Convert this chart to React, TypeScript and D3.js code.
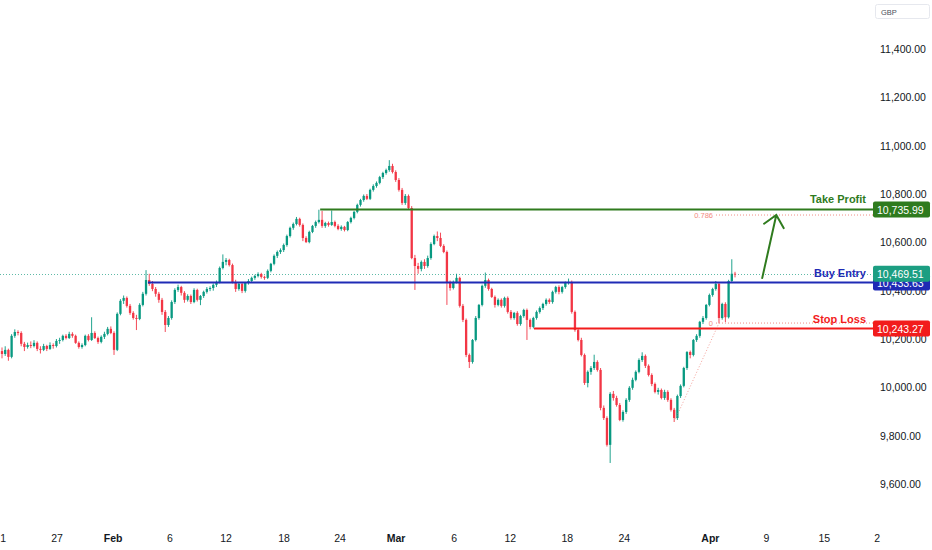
import React, { useRef, useEffect } from 'react';
import * as d3 from 'd3';

const WIDTH = 932;
const HEIGHT = 550;
const FONT = '"Liberation Sans", Arial, sans-serif';

// candles (open / high / low / close)
const opens = [
  10150, 10138, 10155, 10126, 10213, 10229, 10225, 10180, 10167, 10175,
  10171, 10184, 10159, 10155, 10171, 10159, 10175, 10171, 10192, 10196,
  10213, 10204, 10221, 10213, 10184, 10167, 10175, 10213, 10196, 10225,
  10204, 10188, 10209, 10221, 10242, 10225, 10155, 10304, 10358, 10370,
  10337, 10308, 10287, 10283, 10341, 10387, 10444, 10428, 10407, 10387,
  10362, 10312, 10258, 10287, 10353, 10403, 10415, 10391, 10362, 10378,
  10353, 10403, 10362, 10378, 10395, 10407, 10411, 10424, 10436, 10494,
  10519, 10527, 10506, 10436, 10407, 10428, 10399, 10432, 10440, 10453,
  10461, 10469, 10457, 10453, 10482, 10511, 10544, 10560, 10568, 10589,
  10626, 10660, 10676, 10697, 10672, 10618, 10601, 10643, 10668, 10684,
  10693, 10668, 10680, 10672, 10684, 10668, 10655, 10664, 10651, 10684,
  10701, 10726, 10755, 10775, 10792, 10780, 10817, 10833, 10846, 10870,
  10887, 10899, 10916, 10891, 10858, 10817, 10763, 10792, 10742, 10535,
  10502, 10490, 10519, 10502, 10535, 10593, 10626, 10618, 10585, 10560,
  10436, 10411, 10436, 10453, 10337, 10279, 10134, 10105, 10196, 10287,
  10341, 10420, 10444, 10407, 10374, 10341, 10362, 10337, 10370, 10312,
  10287, 10308, 10262, 10295, 10320, 10279, 10250, 10287, 10312, 10328,
  10345, 10362, 10353, 10395, 10415, 10395, 10415, 10432, 10436, 10312,
  10237, 10196, 10134, 10018, 10064, 10080, 10105, 10072, 9915, 9873,
  9762, 9973, 9956, 9927, 9865, 9898, 9948, 9998, 10031, 10064,
  10113, 10130, 10089, 10051, 10014, 9981, 9989, 9956, 9981, 9948,
  9907, 9873, 9964, 10006, 10080, 10146, 10134, 10196, 10213, 10271,
  10287, 10341, 10382, 10407, 10428, 10287, 10345, 10290, 10440, 10470,
];
const highs = [
  10165, 10170, 10160, 10220, 10240, 10236, 10232, 10188, 10185, 10190,
  10195, 10190, 10170, 10180, 10176, 10186, 10182, 10200, 10205, 10218,
  10220, 10230, 10228, 10218, 10190, 10182, 10218, 10220, 10290, 10232,
  10210, 10215, 10230, 10250, 10252, 10232, 10310, 10365, 10380, 10376,
  10345, 10315, 10300, 10348, 10395, 10485, 10470, 10440, 10415, 10395,
  10370, 10320, 10295, 10360, 10410, 10425, 10420, 10398, 10385, 10384,
  10410, 10408, 10382, 10400, 10415, 10418, 10430, 10442, 10500, 10550,
  10535, 10532, 10512, 10445, 10432, 10434, 10436, 10448, 10458, 10466,
  10476, 10474, 10462, 10488, 10515, 10550, 10566, 10575, 10595, 10632,
  10665, 10682, 10705, 10702, 10678, 10625, 10648, 10672, 10690, 10735,
  10730, 10685, 10686, 10732, 10690, 10675, 10670, 10668, 10688, 10706,
  10730, 10760, 10780, 10798, 10800, 10822, 10840, 10852, 10875, 10892,
  10905, 10940, 10925, 10898, 10866, 10825, 10800, 10798, 10750, 10548,
  10515, 10525, 10530, 10545, 10600, 10632, 10645, 10640, 10592, 10566,
  10442, 10442, 10470, 10458, 10345, 10285, 10140, 10200, 10295, 10345,
  10425, 10475, 10450, 10412, 10380, 10368, 10368, 10375, 10376, 10320,
  10312, 10315, 10300, 10325, 10326, 10285, 10292, 10318, 10335, 10350,
  10368, 10368, 10400, 10420, 10422, 10420, 10438, 10450, 10442, 10318,
  10245, 10205, 10140, 10070, 10088, 10135, 10112, 10080, 9925, 9880,
  9980, 9985, 9965, 9935, 9905, 9955, 10005, 10040, 10070, 10120,
  10145, 10136, 10095, 10058, 10020, 9998, 9995, 9990, 9988, 9955,
  9915, 9970, 10012, 10085, 10150, 10152, 10200, 10220, 10275, 10295,
  10345, 10388, 10412, 10440, 10434, 10350, 10352, 10445, 10530, 10478,
];
const lows = [
  10120, 10130, 10110, 10120, 10205, 10215, 10170, 10150, 10160, 10162,
  10165, 10150, 10140, 10150, 10150, 10155, 10160, 10165, 10180, 10190,
  10198, 10200, 10205, 10180, 10160, 10160, 10170, 10190, 10192, 10200,
  10180, 10182, 10200, 10215, 10220, 10134, 10150, 10298, 10345, 10330,
  10300, 10280, 10237, 10278, 10335, 10380, 10420, 10398, 10375, 10350,
  10300, 10229, 10250, 10280, 10345, 10395, 10380, 10350, 10355, 10345,
  10348, 10355, 10340, 10370, 10388, 10398, 10400, 10415, 10430, 10488,
  10505, 10500, 10430, 10395, 10400, 10390, 10392, 10425, 10432, 10445,
  10455, 10450, 10445, 10448, 10476, 10505, 10535, 10552, 10560, 10582,
  10620, 10652, 10670, 10665, 10605, 10597, 10596, 10638, 10660, 10678,
  10660, 10660, 10665, 10668, 10662, 10650, 10648, 10645, 10646, 10678,
  10695, 10720, 10748, 10768, 10775, 10775, 10810, 10826, 10840, 10862,
  10880, 10892, 10885, 10850, 10810, 10755, 10755, 10735, 10530, 10403,
  10470, 10480, 10490, 10495, 10528, 10588, 10605, 10580, 10555, 10341,
  10400, 10405, 10430, 10330, 10270, 10125, 10080, 10098, 10190, 10280,
  10335, 10412, 10400, 10370, 10330, 10335, 10330, 10330, 10305, 10280,
  10280, 10255, 10255, 10288, 10196, 10240, 10244, 10280, 10305, 10320,
  10338, 10345, 10346, 10388, 10385, 10388, 10408, 10425, 10305, 10230,
  10190, 10128, 10010, 10000, 10052, 10072, 10065, 9905, 9865, 9755,
  9687, 9945, 9920, 9860, 9858, 9890, 9940, 9990, 10025, 10058,
  10105, 10080, 10045, 10005, 9975, 9970, 9950, 9948, 9940, 9900,
  9857, 9865, 9956, 10000, 10072, 10120, 10128, 10188, 10205, 10262,
  10280, 10335, 10375, 10400, 10266, 10280, 10270, 10285, 10435, 10455,
];
const closes = [
  10138, 10155, 10126, 10213, 10229, 10225, 10180, 10167, 10175, 10171,
  10184, 10159, 10155, 10171, 10159, 10175, 10171, 10192, 10196, 10213,
  10204, 10221, 10213, 10184, 10167, 10175, 10213, 10196, 10225, 10204,
  10188, 10209, 10221, 10242, 10225, 10155, 10304, 10358, 10370, 10337,
  10308, 10287, 10283, 10341, 10387, 10444, 10428, 10407, 10387, 10362,
  10312, 10258, 10287, 10353, 10403, 10415, 10391, 10362, 10378, 10353,
  10403, 10362, 10378, 10395, 10407, 10411, 10424, 10436, 10494, 10519,
  10527, 10506, 10436, 10407, 10428, 10399, 10432, 10440, 10453, 10461,
  10469, 10457, 10453, 10482, 10511, 10544, 10560, 10568, 10589, 10626,
  10660, 10676, 10697, 10672, 10618, 10601, 10643, 10668, 10684, 10693,
  10668, 10680, 10672, 10684, 10668, 10655, 10664, 10651, 10684, 10701,
  10726, 10755, 10775, 10792, 10780, 10817, 10833, 10846, 10870, 10887,
  10899, 10916, 10891, 10858, 10817, 10763, 10792, 10742, 10535, 10502,
  10490, 10519, 10502, 10535, 10593, 10626, 10618, 10585, 10560, 10436,
  10411, 10436, 10453, 10337, 10279, 10134, 10105, 10196, 10287, 10341,
  10420, 10444, 10407, 10374, 10341, 10362, 10337, 10370, 10312, 10287,
  10308, 10262, 10295, 10320, 10279, 10250, 10287, 10312, 10328, 10345,
  10362, 10353, 10395, 10415, 10395, 10415, 10432, 10436, 10312, 10237,
  10196, 10134, 10018, 10064, 10080, 10105, 10072, 9915, 9873, 9762,
  9973, 9956, 9927, 9865, 9898, 9948, 9998, 10031, 10064, 10113,
  10130, 10089, 10051, 10014, 9981, 9989, 9956, 9981, 9948, 9907,
  9873, 9964, 10006, 10080, 10146, 10134, 10196, 10213, 10271, 10287,
  10341, 10382, 10407, 10428, 10287, 10345, 10290, 10440, 10470, 10469.51,
];

// price axis
const priceTicks = [9600, 9800, 10000, 10200, 10400, 10600, 10800, 11000, 11200, 11400];
// time axis: label + position in bar units
const timeLabels = ['1', '27', 'Feb', '6', '12', '18', '24', 'Mar', '6', '12', '18', '24', 'Apr', '9', '15', '2'];
const timeAt = [0.4, 17.2, 34.7, 52.5, 70, 88.1, 105.6, 123.1, 141.3, 158.8, 176.6, 194.4, 221.3, 238.8, 256.9, 273.4];
const monthLabels = ['Feb', 'Mar', 'Apr'];

// trade levels
const levelNames = ['Take Profit', 'Buy Entry', 'Stop Loss'];
const levelPrices = [10735.99, 10433.63, 10243.27];
const levelStartBar = [99.4, 45.6, 166.2];
const levelColors = ['#2f7b1e', '#1f2bb5', '#f21c1c'];
const lastPrice = 10469.51;

// fib tool
const fibNames = ['0.786', '0'];
const fibPrices = [10713, 10266];
const fibTrend = [[210, 9857], [224, 10266]];

// projected move arrow [bar, price]
const arrowFrom = [237.5, 10452];
const arrowTo = [241.9, 10713];

const fmt = d3.format(',.2f');

const App: React.FC = () => {
  const svgRef = useRef<SVGSVGElement | null>(null);

  useEffect(() => {
    const svg = d3.select(svgRef.current);
    svg.selectAll('*').remove();

    const plotRight = 873;
    const x = d3.scaleLinear().domain([0, closes.length - 1]).range([2, 735]);
    const y = d3.scaleLinear().domain([9600, 11400]).range([484, 49]);
    const step = x(1) - x(0);
    const bodyW = Math.max(1, step * 0.72);

    svg.append('rect').attr('width', WIDTH).attr('height', HEIGHT).attr('fill', '#ffffff');

    svg.append('defs').append('clipPath').attr('id', 'plot-clip')
      .append('rect').attr('x', 0).attr('y', 0).attr('width', plotRight).attr('height', 525);

    const plot = svg.append('g').attr('clip-path', 'url(#plot-clip)');

    // last price dotted line
    plot.append('line')
      .attr('x1', 0).attr('x2', plotRight)
      .attr('y1', Math.round(y(lastPrice)) + 0.5).attr('y2', Math.round(y(lastPrice)) + 0.5)
      .attr('stroke', '#1c9e82').attr('stroke-width', 1).attr('stroke-dasharray', '1 2').attr('opacity', 0.7);

    // candles
    const idx = d3.range(closes.length);
    const up = (i: number) => closes[i] >= opens[i];
    const UP = '#089981';
    const DOWN = '#f23645';

    const candles = plot.append('g').selectAll('g.candle').data(idx).enter()
      .append('g').attr('class', 'candle');

    candles.append('line')
      .attr('x1', (i: number) => x(i)).attr('x2', (i: number) => x(i))
      .attr('y1', (i: number) => y(highs[i])).attr('y2', (i: number) => y(lows[i]))
      .attr('stroke', (i: number) => (up(i) ? UP : DOWN)).attr('stroke-width', 0.9);

    candles.append('rect')
      .attr('x', (i: number) => x(i) - bodyW / 2)
      .attr('y', (i: number) => y(Math.max(opens[i], closes[i])))
      .attr('width', bodyW)
      .attr('height', (i: number) => Math.max(0.8, Math.abs(y(opens[i]) - y(closes[i]))))
      .attr('fill', (i: number) => (up(i) ? UP : DOWN));

    // fib retracement bits
    const FIB = '#f28b82';
    plot.append('line')
      .attr('x1', x(fibTrend[0][0])).attr('y1', y(fibTrend[0][1]))
      .attr('x2', x(fibTrend[1][0])).attr('y2', y(fibTrend[1][1]))
      .attr('stroke', FIB).attr('stroke-width', 1).attr('stroke-dasharray', '1 2').attr('opacity', 0.8);
    fibNames.forEach((name, k) => {
      const fy = y(fibPrices[k]);
      plot.append('line')
        .attr('x1', x(fibTrend[1][0]) - 3).attr('x2', plotRight)
        .attr('y1', fy).attr('y2', fy)
        .attr('stroke', FIB).attr('stroke-width', 1).attr('stroke-dasharray', '1 2');
      plot.append('text')
        .attr('x', x(fibTrend[1][0]) - 6).attr('y', fy)
        .attr('text-anchor', 'end').attr('dominant-baseline', 'central')
        .attr('font-family', FONT).attr('font-size', 7.5).attr('fill', FIB)
        .text(name);
    });

    // trade levels
    levelNames.forEach((name, k) => {
      const ly = y(levelPrices[k]);
      plot.append('line')
        .attr('x1', x(levelStartBar[k])).attr('x2', plotRight)
        .attr('y1', ly).attr('y2', ly)
        .attr('stroke', levelColors[k]).attr('stroke-width', 2);
      plot.append('text')
        .attr('x', 866).attr('y', ly - 6)
        .attr('text-anchor', 'end')
        .attr('font-family', FONT).attr('font-size', 11).attr('font-weight', 'bold')
        .attr('fill', levelColors[k])
        .text(name);
    });

    // arrow
    const ARROW = '#2f7b1e';
    const ax1 = x(arrowFrom[0]);
    const ay1 = y(arrowFrom[1]);
    const ax2 = x(arrowTo[0]);
    const ay2 = y(arrowTo[1]);
    const ang = Math.atan2(ay1 - ay2, ax1 - ax2);
    const headLen = 15;
    const spread = (42 * Math.PI) / 180;
    plot.append('path')
      .attr('d', `M${ax1},${ay1}L${ax2},${ay2}`
        + `M${ax2 + headLen * Math.cos(ang - spread)},${ay2 + headLen * Math.sin(ang - spread)}L${ax2},${ay2}`
        + `L${ax2 + headLen * Math.cos(ang + spread)},${ay2 + headLen * Math.sin(ang + spread)}`)
      .attr('fill', 'none').attr('stroke', ARROW).attr('stroke-width', 2).attr('stroke-linecap', 'round');

    // price axis
    const axis = svg.append('g');
    axis.selectAll('text.tick').data(priceTicks).enter().append('text')
      .attr('class', 'tick')
      .attr('x', 880).attr('y', (d: number) => y(d))
      .attr('dominant-baseline', 'central')
      .attr('font-family', FONT).attr('font-size', 10.5).attr('fill', '#131722')
      .text((d: number) => fmt(d));

    const tag = (price: number, color: string) => {
      const ty = y(price);
      axis.append('rect')
        .attr('x', 873).attr('y', ty - 8).attr('width', 57).attr('height', 16).attr('rx', 2)
        .attr('fill', color);
      axis.append('text')
        .attr('x', 877).attr('y', ty + 0.5)
        .attr('dominant-baseline', 'central')
        .attr('font-family', FONT).attr('font-size', 10.5).attr('fill', '#ffffff')
        .text(fmt(price));
    };
    tag(levelPrices[0], levelColors[0]);
    tag(levelPrices[1], levelColors[1]);
    tag(lastPrice, '#1c9e82');
    tag(levelPrices[2], levelColors[2]);

    // currency box
    axis.append('rect')
      .attr('x', 875.5).attr('y', 4.5).attr('width', 54).attr('height', 14).attr('rx', 2)
      .attr('fill', '#ffffff').attr('stroke', '#e6e8ee');
    axis.append('text')
      .attr('x', 881).attr('y', 12)
      .attr('dominant-baseline', 'central')
      .attr('font-family', FONT).attr('font-size', 7.5).attr('fill', '#4a4e5a')
      .text('GBP');

    // time axis
    svg.append('g').selectAll('text').data(timeLabels).enter().append('text')
      .attr('x', (_: string, i: number) => x(timeAt[i]))
      .attr('y', 538)
      .attr('text-anchor', 'middle').attr('dominant-baseline', 'central')
      .attr('font-family', FONT).attr('font-size', 10.5).attr('fill', '#131722')
      .attr('font-weight', (d: string) => (monthLabels.includes(d) ? 'bold' : 'normal'))
      .text((d: string) => d);
  }, []);

  return (
    <svg
      ref={svgRef}
      width={WIDTH}
      height={HEIGHT}
      style={{ position: 'fixed', left: 0, top: 0, background: '#fff' }}
    />
  );
};

export default App;
